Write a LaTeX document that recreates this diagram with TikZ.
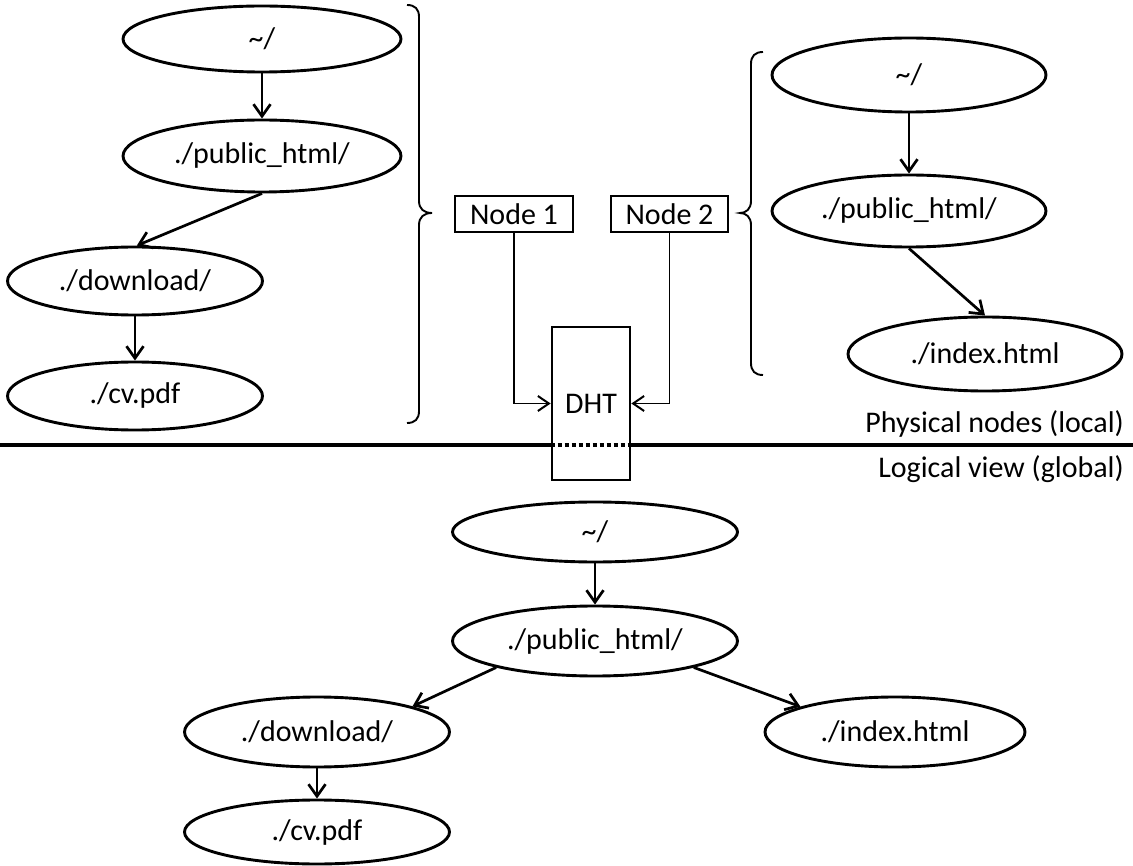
\documentclass[tikz,border=0pt]{standalone}
\usepackage{fontspec}
\setmainfont{Carlito}
\usetikzlibrary{shapes.geometric,arrows.meta}
\begin{document}
\begin{tikzpicture}[x=1pt,y=-1pt,
  txt/.style={font=\fontsize{30}{34}\selectfont},
  el/.style={draw,ellipse,line width=2.9pt,inner sep=0pt,txt},
  box/.style={draw,rectangle,line width=2.7pt,inner sep=0pt,fill=white,txt},
  arr/.style={line width=2.7pt,-{Straight Barb[length=12pt,width=17pt,line width=2.7pt]}},
  thinarr/.style={line width=1.7pt,-{Straight Barb[length=11pt,width=15pt,line width=2pt]}},
  bracestyle/.style={line width=1.9pt},
  lbl/.style={txt,inner sep=0pt}]
\useasboundingbox (0,0) rectangle (1133,866);

% top-left tree
\node[el,minimum width=278pt,minimum height=66pt] (r1) at (262,39) {\textasciitilde/};
\node[el,minimum width=278pt,minimum height=72pt] (p1) at (262,156) {./public\_html/};
\node[el,minimum width=255pt,minimum height=68pt] (d1) at (135,281) {./download/};
\node[el,minimum width=255pt,minimum height=68pt] (c1) at (135,396) {./cv.pdf};
\draw[arr] (r1) -- (p1);
\draw[arr] (p1.south) -- (d1.87);
\draw[arr] (d1) -- (c1);

% top-right tree
\node[el,minimum width=274pt,minimum height=74pt] (r2) at (909,75) {\textasciitilde/};
\node[el,minimum width=274pt,minimum height=72pt] (p2) at (909,211) {./public\_html/};
\node[el,minimum width=274pt,minimum height=74pt] (i2) at (985,354) {./index.html};
\draw[arr] (r2) -- (p2);
\draw[arr] (p2.south) -- (i2.north);

% braces
\draw[bracestyle] (407,5) .. controls (415,5) and (419,9) .. (419,17) -- (419,201)
  .. controls (419,209) and (424,213) .. (432,213)
  .. controls (424,213) and (419,217) .. (419,225) -- (419,411)
  .. controls (419,419) and (415,423) .. (407,423);
\draw[bracestyle] (763,52) .. controls (755,52) and (751,56) .. (751,64) -- (751,201)
  .. controls (751,209) and (746,213) .. (740,213)
  .. controls (746,213) and (751,217) .. (751,225) -- (751,363)
  .. controls (751,371) and (755,375) .. (763,375);

% separator line
\coordinate (L) at (0,445);
\coordinate (R) at (1133,445);
\draw[line width=3.6pt] (L) -- (R);

% physical nodes and DHT
\node[box,minimum width=118pt,minimum height=36pt] (n1) at (514,214) {Node 1};
\node[box,minimum width=117pt,minimum height=36pt] (n2) at (669.5,214) {Node 2};
\node[box,minimum width=78pt,minimum height=153pt] (dht) at (591,403.5) {DHT};
\draw[line width=3.6pt,dash pattern=on 4pt off 3pt] (dht.west |- L) -- (dht.east |- L);
\draw[thinarr] (n1.south) |- (dht.west);
\draw[thinarr] (n2.south) |- (dht.east);

% labels
\node[lbl,anchor=base east] (phys) at (1124,433) {Physical nodes (local)};
\node[lbl,anchor=base east] (logi) at (1124,478) {Logical view (global)};

% bottom tree
\node[el,minimum width=285pt,minimum height=60pt] (r3) at (595,532) {\textasciitilde/};
\node[el,minimum width=285pt,minimum height=70pt] (p3) at (595,641) {./public\_html/};
\node[el,minimum width=265pt,minimum height=70pt] (d3) at (317,732) {./download/};
\node[el,minimum width=260pt,minimum height=70pt] (i3) at (895,732) {./index.html};
\node[el,minimum width=265pt,minimum height=64pt] (c3) at (317,832) {./cv.pdf};
\draw[arr] (r3) -- (p3);
\draw[arr] (p3.195) -- (d3.15);
\draw[arr] (p3.345) -- (i3.165);
\draw[arr] (d3) -- (c3);
\end{tikzpicture}
\end{document}
